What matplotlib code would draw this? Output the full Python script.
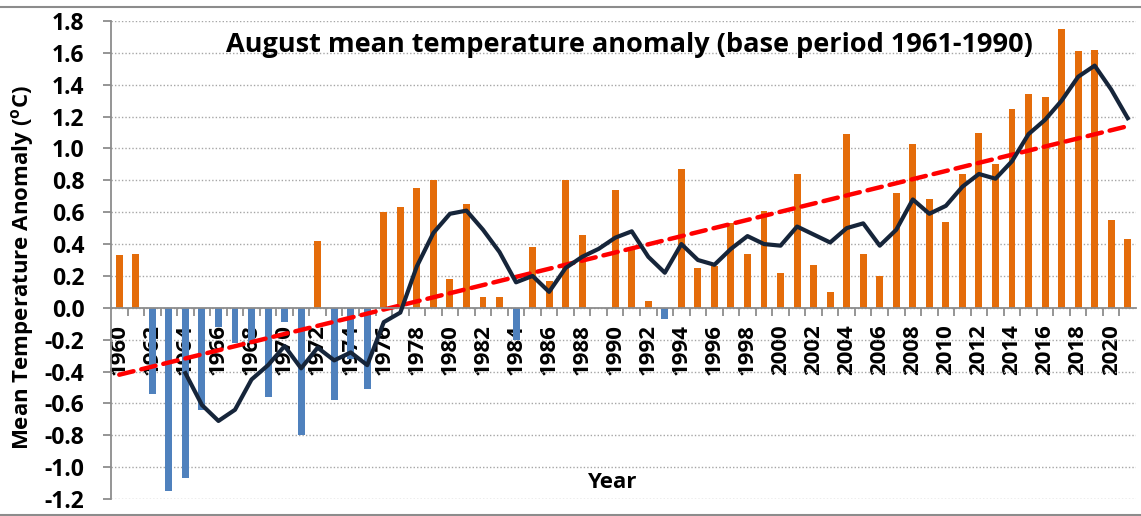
import numpy as np
import matplotlib
matplotlib.use("Agg")
import matplotlib.pyplot as plt
from matplotlib.patches import Rectangle

# data
years = list(range(1960, 2022))
anomaly = [0.33, 0.34, -0.54, -1.15, -1.07, -0.64, -0.12, -0.22, -0.22, -0.56,
           -0.09, -0.80, 0.42, -0.58, -0.32, -0.51, 0.60, 0.63, 0.75, 0.80,
           0.18, 0.65, 0.07, 0.07, -0.20, 0.38, 0.17, 0.80, 0.46, 0.00,
           0.74, 0.38, 0.04, -0.07, 0.87, 0.25, 0.26, 0.53, 0.34, 0.61,
           0.22, 0.84, 0.27, 0.10, 1.09, 0.34, 0.20, 0.72, 1.03, 0.68,
           0.54, 0.84, 1.10, 0.90, 1.25, 1.34, 1.32, 1.75, 1.61, 1.62,
           0.55, 0.43]
# 5 yr running mean (from 1964)
mean_years = list(range(1964, 2022))
running_mean = [-0.41, -0.61, -0.71, -0.64, -0.45, -0.36, -0.24, -0.38, -0.25, -0.33,
                -0.28, -0.36, -0.09, -0.03, 0.26, 0.47, 0.59, 0.61, 0.49, 0.35,
                0.16, 0.20, 0.10, 0.25, 0.32, 0.37, 0.44, 0.48, 0.32, 0.22,
                0.40, 0.30, 0.27, 0.37, 0.45, 0.40, 0.39, 0.51, 0.46, 0.41,
                0.50, 0.53, 0.39, 0.49, 0.68, 0.59, 0.64, 0.76, 0.84, 0.81,
                0.92, 1.09, 1.18, 1.30, 1.45, 1.52, 1.37, 1.19]
trend_years = [1960, 2021]
trend_vals = [-0.42, 1.14]
yticks = [-1.2, -1.0, -0.8, -0.6, -0.4, -0.2, 0.0, 0.2, 0.4, 0.6, 0.8, 1.0, 1.2, 1.4, 1.6, 1.8]

plt.rcParams['font.family'] = ['Open Sans', 'DejaVu Sans']
plt.rcParams['font.weight'] = 'bold'
plt.rcParams['mathtext.fontset'] = 'custom'
plt.rcParams['mathtext.bf'] = 'Open Sans:bold'

W, H = 1141, 516
fig = plt.figure(figsize=(W/100, H/100), dpi=100)
ax = fig.add_axes([111/W, (H-499)/H, (1136-111)/W, (499-21)/H])

x = np.arange(len(years))
cols = ['#E46C0A' if v >= 0 else '#4F81BD' for v in anomaly]
ax.bar(x, anomaly, width=0.42, color=cols, zorder=2)

xm = np.array(mean_years) - years[0]
ax.plot(xm, running_mean, color='#16253A', lw=3, zorder=4, solid_joinstyle='round')

xt = np.array(trend_years) - years[0]
ax.plot(xt, trend_vals, color='#FF0000', lw=3.2, dashes=(3.3, 1.8), dash_capstyle='round', zorder=3)

ax.set_xlim(-0.5, len(years) - 0.5)
ax.set_ylim(-1.2, 1.8)
ax.set_yticks(yticks)
ax.set_yticklabels(['%.1f' % t for t in yticks], fontsize=16.5, fontweight='bold')
ax.yaxis.grid(True, linestyle=(0, (1, 1.5)), color='#A6A6A6', lw=1, zorder=0)

# x axis on zero line, ticks between categories
ax.spines['bottom'].set_position(('data', 0))
for s in ['top', 'right']:
    ax.spines[s].set_visible(False)
for s in ['bottom', 'left']:
    ax.spines[s].set_color('#8C8C8C')
    ax.spines[s].set_linewidth(1.3)
    ax.spines[s].set_zorder(3)
ax.set_xticks(np.arange(len(years) - 1) + 0.5)
ax.set_xticklabels([])
ax.tick_params(axis='x', which='major', direction='out', length=6, color='#8C8C8C', width=1.3)
ax.tick_params(axis='y', direction='out', length=6, color='#8C8C8C', width=1.3, pad=13)
ax.set_xticks(x[::2], minor=True)
ax.set_xticklabels([str(y) for y in years[::2]], minor=True)
ax.tick_params(axis='x', which='minor', length=0, pad=12, labelsize=16, labelrotation=90)

fig.text(23/W, 1 - 268/H, 'Mean Temperature Anomaly ($\\mathbf{{}^{o}}$C)',
         rotation=90, ha='center', va='center', fontsize=16, fontweight='bold')
fig.text(629/W, 1 - 45/H, 'August mean temperature anomaly (base period 1961-1990)',
         ha='center', va='center', fontsize=19.5, fontweight='bold')
fig.text(612/W, 1 - 483/H, 'Year', ha='center', va='center', fontsize=16, fontweight='bold')

# chart border
fig.patches.append(Rectangle((-0.01, 1/H), 1.02, (514-6)/H, transform=fig.transFigure,
                             fill=False, edgecolor='#8C8C8C', lw=1.5))

plt.savefig('out.png', dpi=100)
